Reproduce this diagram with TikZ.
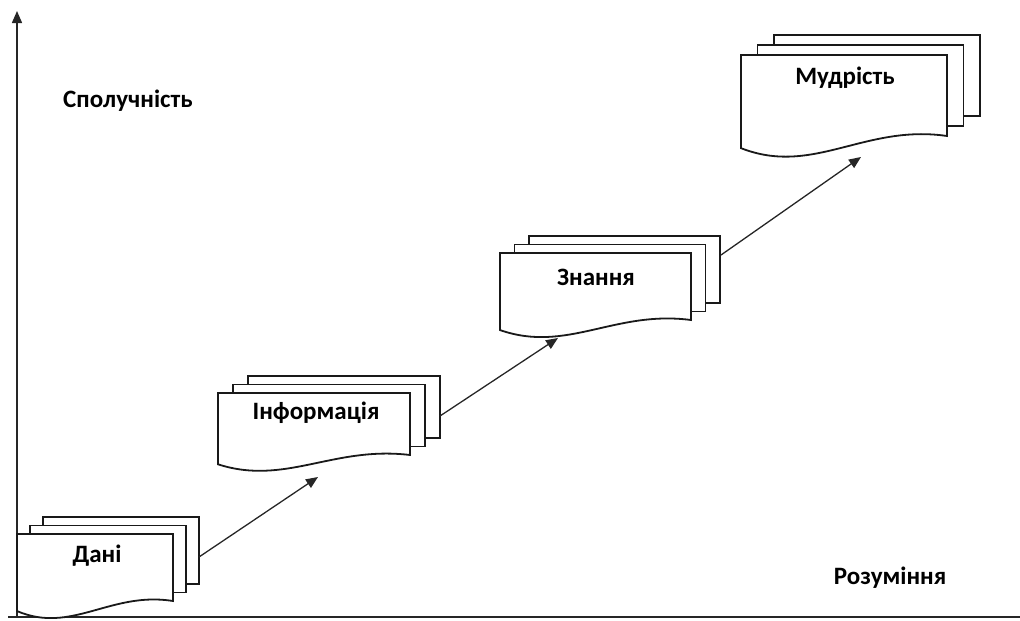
\documentclass[tikz,border=0pt]{standalone}
\usepackage{fontspec}
\setmainfont{Carlito}
\usetikzlibrary{arrows.meta}
\tikzset{
  docline/.style={draw=black!90, line width=1.8pt, fill=white, line join=miter},
  conn/.style={draw=black!85, line width=1.3pt, -{Triangle[length=12pt,width=10pt]}},
  axis/.style={draw=black!85, line width=1.5pt},
  lbl/.style={font=\fontsize{25}{30}\selectfont\bfseries, text=black, inner sep=0pt},
}
\newcommand\mdoc[7]{%
  \pgfmathsetmacro\mdW{#4-#2}%
  \pgfmathsetmacro\mdH{#5-#3}%
  \path[docline] (#2+2*#6,#3-2*#7) rectangle (#4+2*#6,#5-2*#7);
  \path[docline] (#2+#6,#3-#7) rectangle (#4+#6,#5-#7);
  \path[docline] (#2,#5+0.15*\mdH) -- (#2,#3) -- (#4,#3) -- (#4,#5)
     .. controls (#4-0.4*\mdW,#5-0.15*\mdH) and (#2+0.35*\mdW,#5+0.5*\mdH) .. (#2,#5+0.15*\mdH) -- cycle;
}
\begin{document}
\begin{tikzpicture}[x=1pt,y=-1pt]
\useasboundingbox (0,0) rectangle (1020,621);
% axes
\coordinate (origin) at (17,617);
\coordinate (ytop) at (17,11);
\coordinate (xleft) at (8,617);
\coordinate (xright) at (1020,617);
\draw[axis,-{Triangle[length=12pt,width=10pt]}] (origin) -- (ytop);
\draw[axis] (xleft) -- (xright);
% documents
\mdoc{dani}{17}{534}{173}{601}{13}{8.5}
\mdoc{info}{218}{393}{410}{455}{15}{8.5}
\mdoc{znan}{500}{253}{691}{320}{14.5}{8.5}
\mdoc{mudr}{741}{55}{947}{136}{16.5}{10}
% labels
\node[lbl] (spol) at (128,101) {Сполучність};
\node[lbl] (rozu) at (890,578) {Розуміння};
\node[lbl] (dani) at (97,556) {Дані};
\node[lbl] (info) at (316,413) {Інформація};
\node[lbl] (znan) at (596,277) {Знання};
\node[lbl] (mudr) at (845,78) {Мудрість};
% connector ends
\coordinate (dani-out) at (199,557);
\coordinate (info-in) at (318,477);
\coordinate (info-out) at (440,416);
\coordinate (znan-in) at (558,338);
\coordinate (znan-out) at (721,255);
\coordinate (mudr-in) at (861,157);
\draw[conn] (dani-out) -- (info-in);
\draw[conn] (info-out) -- (znan-in);
\draw[conn] (znan-out) -- (mudr-in);
\end{tikzpicture}
\end{document}
